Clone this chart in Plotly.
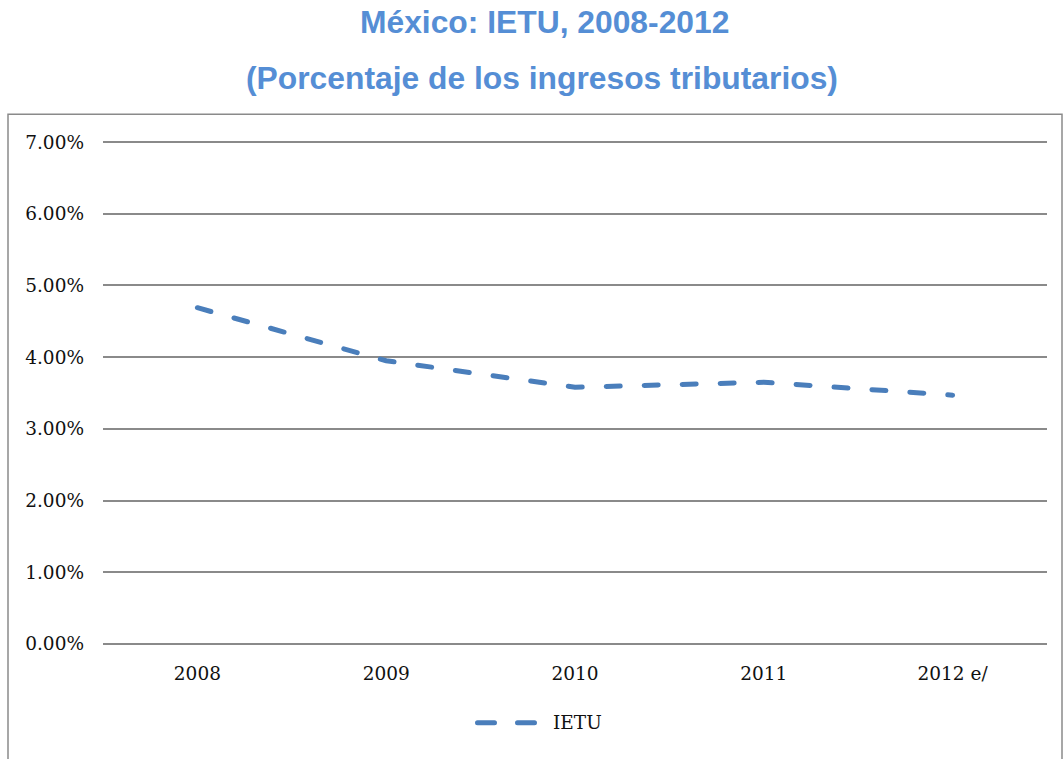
import plotly.graph_objects as go

# IETU revenue as a share of tax revenue
years = ["2008", "2009", "2010", "2011", "2012 e/"]
ietu_share = [0.0469, 0.0395, 0.0358, 0.0365, 0.0347]
y_ticks = [0, 0.01, 0.02, 0.03, 0.04, 0.05, 0.06, 0.07]

W, H = 1063, 759
PAD = 0.0003  # small headroom so the 0% and 7% gridlines are drawn
PL, PR = 103, 1047
Y0_PX, Y7_PX = 644, 142  # pixel rows of the 0% and 7% gridlines
per_unit = (Y0_PX - Y7_PX) / 0.07
PT = Y7_PX - PAD * per_unit
PB = Y0_PX + PAD * per_unit


def px_x(x):
    return (x - PL) / (PR - PL)


def px_y(y):
    return (PB - y) / (PB - PT)


BLUE = "#4A7EBB"
GRID = "#8a8a8a"
TITLE = "#558ED5"
SERIF = "DejaVu Serif"

fig = go.Figure()
fig.add_trace(go.Scatter(
    x=years, y=ietu_share, mode="lines", name="IETU",
    line=dict(color=BLUE, width=5, dash="14px,24px"),
    showlegend=False, hoverinfo="skip",
))

shapes = [
    # outer chart frame
    dict(type="rect", xref="paper", yref="paper",
         x0=px_x(8), x1=px_x(1062), y0=px_y(762), y1=px_y(114),
         line=dict(color=GRID, width=1.5), fillcolor="rgba(0,0,0,0)", layer="below"),
    # legend key
    dict(type="line", xref="paper", yref="paper",
         x0=px_x(477.5), x1=px_x(534.5), y0=px_y(723), y1=px_y(723),
         line=dict(color=BLUE, width=5, dash="17px,23px")),
]

annotations = [
    dict(text="<b>México: IETU, 2008-2012</b>", xref="paper", yref="paper",
         x=px_x(544), y=px_y(22), xanchor="center", yanchor="middle", showarrow=False,
         font=dict(family="Liberation Sans, Arial", size=31.8, color=TITLE)),
    dict(text="<b>(Porcentaje de los ingresos tributarios)</b>", xref="paper", yref="paper",
         x=px_x(542), y=px_y(78), xanchor="center", yanchor="middle", showarrow=False,
         font=dict(family="Liberation Sans, Arial", size=31.8, color=TITLE)),
    dict(text="IETU", xref="paper", yref="paper",
         x=px_x(551), y=px_y(723), xanchor="left", yanchor="middle", showarrow=False,
         font=dict(family=SERIF, size=18.5, color="#111111")),
]

fig.update_layout(
    width=W, height=H,
    margin=dict(l=PL, r=W - PR, t=PT, b=H - PB, pad=0),
    paper_bgcolor="white", plot_bgcolor="white",
    shapes=shapes, annotations=annotations,
    showlegend=False,
    font=dict(family=SERIF, size=18.5, color="#111111"),
)
fig.update_xaxes(
    type="category", range=[-0.5, len(years) - 0.5],
    showgrid=False, zeroline=False, showline=False, ticks="",
    ticklabelstandoff=14, tickfont=dict(family=SERIF, size=18.5, color="#111111"),
)
fig.update_yaxes(
    range=[-PAD, 0.07 + PAD], tickvals=y_ticks, tickformat=".2%",
    showgrid=True, gridcolor=GRID, gridwidth=1.5,
    zeroline=False, showline=False, ticks="",
    ticklabelstandoff=18, tickfont=dict(family=SERIF, size=18.5, color="#111111"),
)

round_caps = """
document.querySelectorAll('.scatterlayer path.js-line, .shapelayer path').forEach(function(p){
  p.style.strokeLinecap = 'round';
});
"""

fig.write_html("out.html", post_script=round_caps)
